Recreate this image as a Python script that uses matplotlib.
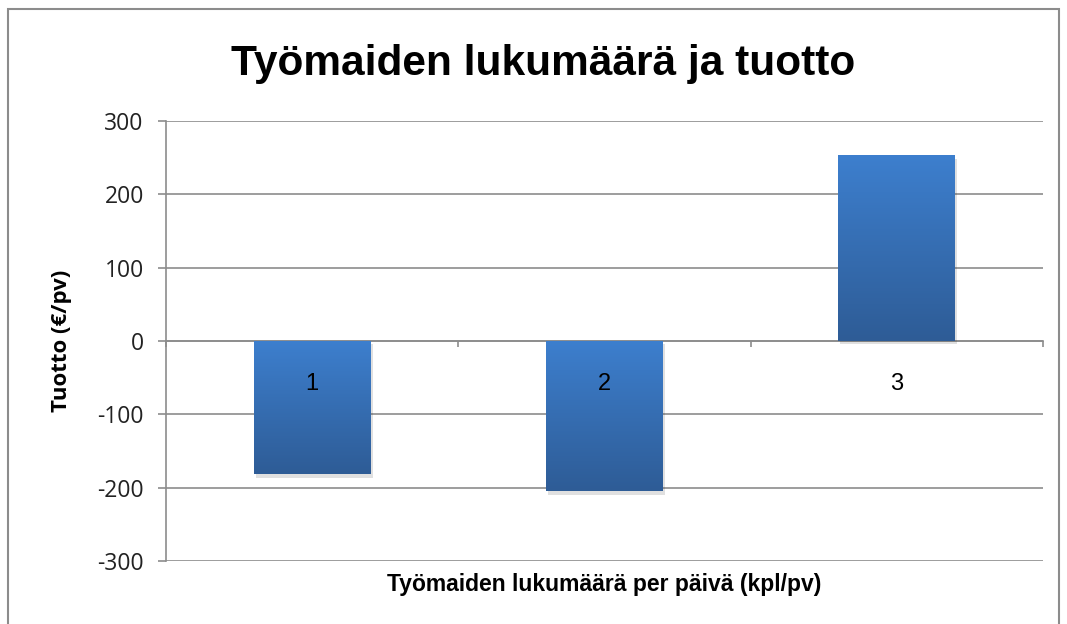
import matplotlib
matplotlib.use('Agg')
import matplotlib.pyplot as plt
import matplotlib.patches as mpatches
import matplotlib.patheffects as pe
from matplotlib.colors import LinearSegmentedColormap
import numpy as np

plt.rcParams['axes.unicode_minus'] = False

# ─── Data ─────────────────────────────────────────────────────────────────────
categories = ["1", "2", "3"]
tuotto = [-182, -205, 253]
yticks = [-300, -200, -100, 0, 100, 200, 300]

TITLE = "Työmaiden lukumäärä ja tuotto"
XLABEL = "Työmaiden lukumäärä per päivä (kpl/pv)"
YLABEL = "Tuotto (€/pv)"

NARROW = ['Liberation Sans Narrow', 'Liberation Sans', 'DejaVu Sans']
SEGOE = ['Open Sans', 'DejaVu Sans']
GRID = '#8C8C8C'

fig = plt.figure(figsize=(10.67, 6.24), dpi=100, facecolor='white')
ax = fig.add_axes([166 / 1067, 1 - 561 / 624, 877 / 1067, 440 / 624])

x = np.arange(len(categories))
bars = ax.bar(x, tuotto, width=0.40, color='#3468AE', zorder=3,
              path_effects=[pe.SimplePatchShadow(offset=(1.5, -2.5), alpha=0.15,
                                                 shadow_rgbFace='#333333'),
                            pe.Normal()])

# pystysuuntainen liukuväri palkkeihin
cmap = LinearSegmentedColormap.from_list('bar', ['#2E5C96', '#3D7FCE'])
grad = np.linspace(0, 1, 256).reshape(-1, 1)
for b in bars:
    x0, y0 = b.get_x(), b.get_y()
    w, h = b.get_width(), b.get_height()
    im = ax.imshow(grad, cmap=cmap, aspect='auto', origin='lower',
                   extent=(x0, x0 + w, min(y0, y0 + h), max(y0, y0 + h)),
                   zorder=4)
    im.set_clip_path(b)

ax.set_xlim(-0.5, len(categories) - 0.5)
ax.set_ylim(yticks[0], yticks[-1])
ax.set_yticks(yticks)
ax.yaxis.grid(True, color=GRID, linewidth=1.2, zorder=0)
ax.set_axisbelow(True)
ax.xaxis.set_zorder(6)   # kategorianumerot palkkien päälle

for s in ('top', 'right'):
    ax.spines[s].set_visible(False)
ax.spines['left'].set_color(GRID)
ax.spines['left'].set_linewidth(1.2)
ax.spines['bottom'].set_position(('data', 0))
ax.spines['bottom'].set_color(GRID)
ax.spines['bottom'].set_linewidth(1.2)

ax.set_xticks(x)
ax.set_xticklabels(categories, family=NARROW, fontsize=17)
ax.set_xticks(np.arange(len(categories) + 1) - 0.5, minor=True)
ax.tick_params(axis='x', which='major', length=0, pad=23)
ax.tick_params(axis='x', which='minor', length=4, color=GRID, width=1.2,
               direction='out')
ax.tick_params(axis='y', length=6, color=GRID, width=1.2, pad=10)
for t in ax.get_yticklabels():
    t.set_family(SEGOE)
    t.set_fontsize(16.5)
    t.set_color('#222222')

ax.set_ylabel(YLABEL, family=SEGOE, fontsize=16, fontweight='bold')
ax.yaxis.set_label_coords(-0.107, 0.5)
ax.set_xlabel(XLABEL, family=NARROW, fontsize=16.5, fontweight='bold')
ax.xaxis.set_label_coords(0.5, -0.028)

fig.text(543 / 1067, 1 - 64 / 624, TITLE, family=NARROW, fontsize=30.5,
         fontweight='bold', ha='center', va='center')

# kaavion reunus
fig.patches.append(mpatches.Rectangle((8 / 1067, -0.05), 1051 / 1067,
                                      1.05 - 9 / 624, transform=fig.transFigure,
                                      facecolor='none', edgecolor=GRID,
                                      linewidth=1.5))

fig.savefig('out.png', dpi=100, facecolor='white')
